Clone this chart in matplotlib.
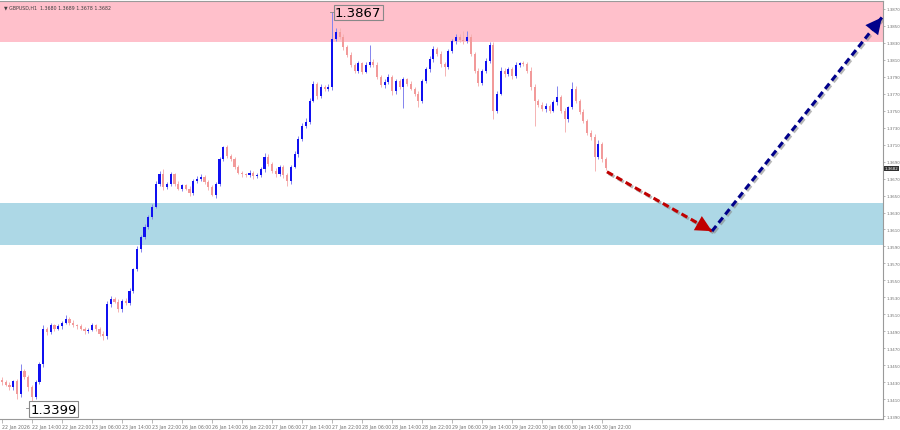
import numpy as np
import matplotlib.pyplot as plt
import matplotlib.patheffects as pe

# GBPUSD H1 — цены закрытия
first_open = 1.3433
closes = [
    1.3430, 1.3427, 1.3424, 1.3431, 1.3416, 1.3443, 1.3436, 1.3424, 1.3413, 1.3430,
    1.3451, 1.3493, 1.3489, 1.3497, 1.3493, 1.3496, 1.3500, 1.3505, 1.3500, 1.3497,
    1.3496, 1.3493, 1.3490, 1.3492, 1.3497, 1.3493, 1.3487, 1.3484, 1.3522, 1.3528,
    1.3525, 1.3516, 1.3526, 1.3523, 1.3538, 1.3563, 1.3587, 1.3601, 1.3613, 1.3625,
    1.3637, 1.3664, 1.3675, 1.3660, 1.3664, 1.3675, 1.3664, 1.3658, 1.3662, 1.3658,
    1.3653, 1.3667, 1.3670, 1.3672, 1.3666, 1.3660, 1.3651, 1.3664, 1.3693, 1.3707,
    1.3697, 1.3693, 1.3684, 1.3677, 1.3675, 1.3674, 1.3677, 1.3673, 1.3674, 1.3681,
    1.3696, 1.3687, 1.3679, 1.3675, 1.3684, 1.3674, 1.3667, 1.3684, 1.3699, 1.3717,
    1.3732, 1.3737, 1.3762, 1.3782, 1.3767, 1.3778, 1.3776, 1.3778, 1.3835, 1.3843,
    1.3837, 1.3825, 1.3816, 1.3804, 1.3797, 1.3806, 1.3796, 1.3804, 1.3808, 1.3804,
    1.3790, 1.3780, 1.3784, 1.3790, 1.3773, 1.3785, 1.3778, 1.3787, 1.3782, 1.3776,
    1.3770, 1.3762, 1.3785, 1.3799, 1.3811, 1.3823, 1.3817, 1.3805, 1.3802, 1.3820,
    1.3832, 1.3837, 1.3833, 1.3832, 1.3837, 1.3817, 1.3797, 1.3783, 1.3797, 1.3809,
    1.3828, 1.3750, 1.3770, 1.3797, 1.3793, 1.3799, 1.3791, 1.3804, 1.3806, 1.3805,
    1.3797, 1.3778, 1.3762, 1.3757, 1.3752, 1.3756, 1.3750, 1.3760, 1.3766, 1.3750,
    1.3740, 1.3754, 1.3776, 1.3762, 1.3749, 1.3738, 1.3724, 1.3719, 1.3696, 1.3711,
    1.3693, 1.3682,
]
# тени свечей, пункты
upper_wick = [
    3, 2, 3, 2, 3, 8, 3, 2, 3, 2, 3, 4, 2, 3, 2, 3, 2, 4, 2, 3,
    2, 3, 2, 2, 3, 2, 2, 3, 4, 3, 2, 3, 2, 3, 3, 2, 3, 2, 3, 2,
    3, 3, 4, 6, 2, 3, 2, 3, 2, 2, 3, 2, 3, 3, 2, 2, 3, 2, 3, 2,
    3, 2, 3, 2, 2, 2, 3, 2, 2, 3, 4, 3, 2, 3, 2, 2, 3, 2, 3, 3,
    3, 4, 3, 3, 2, 3, 2, 3, 32, 5, 4, 3, 2, 3, 2, 3, 2, 3, 20, 3,
    3, 2, 3, 3, 2, 3, 2, 3, 2, 3, 2, 3, 3, 3, 4, 3, 2, 3, 2, 3,
    3, 4, 3, 11, 7, 3, 2, 3, 2, 3, 3, 3, 3, 4, 3, 2, 3, 3, 2, 3,
    3, 4, 3, 2, 3, 3, 2, 3, 13, 2, 3, 2, 8, 3, 2, 3, 2, 3, 3, 4,
    2, 3,
]
lower_wick = [
    3, 2, 3, 3, 6, 3, 2, 4, 14, 3, 2, 3, 3, 2, 3, 2, 3, 2, 3, 2,
    3, 2, 3, 2, 2, 3, 3, 4, 3, 3, 2, 3, 3, 2, 2, 3, 2, 3, 2, 3,
    3, 2, 3, 3, 2, 3, 3, 2, 3, 2, 3, 2, 2, 3, 2, 3, 2, 4, 3, 2,
    3, 2, 3, 2, 3, 2, 2, 3, 2, 2, 3, 2, 3, 3, 2, 3, 6, 3, 2, 3,
    3, 2, 3, 2, 3, 2, 3, 3, 3, 3, 2, 3, 3, 2, 3, 2, 3, 2, 3, 3,
    3, 2, 3, 2, 4, 3, 2, 25, 3, 2, 3, 8, 3, 2, 3, 3, 2, 3, 11, 3,
    2, 3, 2, 3, 2, 3, 3, 4, 3, 2, 3, 10, 3, 2, 3, 2, 3, 2, 3, 2,
    3, 3, 30, 3, 2, 3, 3, 2, 3, 3, 15, 3, 2, 3, 3, 2, 3, 3, 17, 3,
    3, 2,
]

x_tick_pos = [0, 8, 16, 24, 32, 40, 48, 56, 64, 72, 80, 88, 96, 104, 112, 120, 128, 136, 144, 152, 160]
x_tick_labels = ['22 Jan 2026', '22 Jan 14:00', '22 Jan 22:00', '23 Jan 06:00', '23 Jan 14:00',
                 '23 Jan 22:00', '26 Jan 06:00', '26 Jan 14:00', '26 Jan 22:00', '27 Jan 06:00',
                 '27 Jan 14:00', '27 Jan 22:00', '28 Jan 06:00', '28 Jan 14:00', '28 Jan 22:00',
                 '29 Jan 06:00', '29 Jan 14:00', '29 Jan 22:00', '30 Jan 06:00', '30 Jan 14:00',
                 '30 Jan 22:00']
y_tick_values = [1.3390, 1.3410, 1.3430, 1.3450, 1.3470, 1.3490, 1.3510, 1.3530, 1.3550,
                 1.3570, 1.3590, 1.3610, 1.3630, 1.3650, 1.3670, 1.3690, 1.3710, 1.3730,
                 1.3750, 1.3770, 1.3790, 1.3810, 1.3830, 1.3850, 1.3870]

# зоны
resist_zone = (1.3831, 1.3885)
support_zone = (1.3592, 1.3641)

# прогноз: точки стрелок (номер бара, цена)
forecast_down = [(161.3, 1.3678), (189.3, 1.3608)]
forecast_up = [(189.3, 1.3608), (234.6, 1.3860)]

high_label = (88, 1.3867)
low_label = (8, 1.3399)
last_price = 1.3682

# ==================== рисование ====================
fig = plt.figure(figsize=(9, 4.31), dpi=100)
ax = fig.add_axes([0, 11 / 431, 883 / 900, 418 / 431])
ax.set_xlim(-0.53, 234.9)
ax.set_ylim(1.33865, 1.38794)

ax.axhspan(*resist_zone, color='#FFC0CB', lw=0, zorder=0)
ax.axhspan(*support_zone, color='#ADD8E6', lw=0, zorder=0)

closes = np.array(closes)
opens = np.concatenate([[first_open], closes[:-1]])
highs = np.maximum(opens, closes) + np.array(upper_wick) * 0.0001
lows = np.minimum(opens, closes) - np.array(lower_wick) * 0.0001
idx = np.arange(len(closes))
up = closes >= opens

ax.vlines(idx[up], lows[up], highs[up], color='#8484ee', lw=0.7, zorder=2)
ax.vlines(idx[~up], lows[~up], highs[~up], color='#f5b3b3', lw=0.7, zorder=2)
body_h = np.maximum(np.abs(closes - opens), 0.00006)
ax.bar(idx[up], body_h[up], bottom=np.minimum(opens, closes)[up], width=0.55,
       color='#1010f0', lw=0, zorder=3)
ax.bar(idx[~up], body_h[~up], bottom=np.minimum(opens, closes)[~up], width=0.55,
       color='#f29a9a', lw=0, zorder=3)

# подписи экстремумов
ax.plot([high_label[0] - 0.6, high_label[0] + 0.6], [high_label[1]] * 2, color='#888888', lw=0.6)
ax.text(high_label[0] + 0.8, high_label[1] - 0.0001, '%.4f' % high_label[1], fontsize=9.5,
        va='center', ha='left', color='black',
        bbox=dict(boxstyle='square,pad=0.1', fc='none', ec='#888888', lw=0.8), zorder=5)
ax.plot([low_label[0] - 1.6, low_label[0] - 0.6], [low_label[1]] * 2, color='#888888', lw=0.6)
ax.text(low_label[0] - 0.4, low_label[1] - 0.0001, '%.4f' % low_label[1], fontsize=9.5,
        va='center', ha='left', color='black',
        bbox=dict(boxstyle='square,pad=0.1', fc='white', ec='#888888', lw=0.8), zorder=5)

# стрелки прогноза
shadow = [pe.SimpleLineShadow(offset=(1.2, -1.2), shadow_color='#888888', alpha=0.6), pe.Normal()]
for pts, col in [(forecast_down, '#c00000'), (forecast_up, '#00008b')]:
    (x0, y0), (x1, y1) = pts
    ax.plot([x0, x1], [y0, y1], color=col, lw=2.2, ls=(0, (2.2, 1.3)), zorder=6,
            path_effects=shadow)
    ax.annotate('', xy=(x1, y1), xytext=(x0, y0), zorder=7,
                arrowprops=dict(arrowstyle='-|>,head_length=0.9,head_width=0.45', color=col,
                                lw=0, shrinkA=0, shrinkB=0, mutation_scale=13))

# оси
ax.spines['left'].set_visible(False)
for s in ['right', 'bottom', 'top']:
    ax.spines[s].set_color('#9a9a9a')
    ax.spines[s].set_linewidth(0.8)

ax.yaxis.tick_right()
ax.set_yticks(y_tick_values)
ax.set_yticklabels(['%.4f' % v for v in y_tick_values])
ax.tick_params(axis='y', length=1.5, width=0.5, color='#9a9a9a', labelsize=2.9,
               labelcolor='#707070', pad=0.8)
ax.set_xticks(x_tick_pos)
ax.set_xticklabels(x_tick_labels)
ax.tick_params(axis='x', length=3, width=0.5, color='#9a9a9a', labelsize=3.3,
               labelcolor='#707070', pad=0.5)
for lbl in ax.get_xticklabels():
    lbl.set_ha('left')

# текущая цена
ax.annotate('%.4f' % last_price, xy=(1, last_price), xycoords=('axes fraction', 'data'),
            xytext=(1.2, 0), textcoords='offset points', fontsize=2.9, color='white',
            va='center', ha='left', annotation_clip=False,
            bbox=dict(boxstyle='square,pad=0.2', fc='#303030', ec='none'))

fig.text(0.004, 0.988, '\u25bc GBPUSD,H1  1.3680 1.3689 1.3678 1.3682', fontsize=3.4,
         color='#404040', va='top', ha='left')

fig.savefig('out.png', dpi=100)
